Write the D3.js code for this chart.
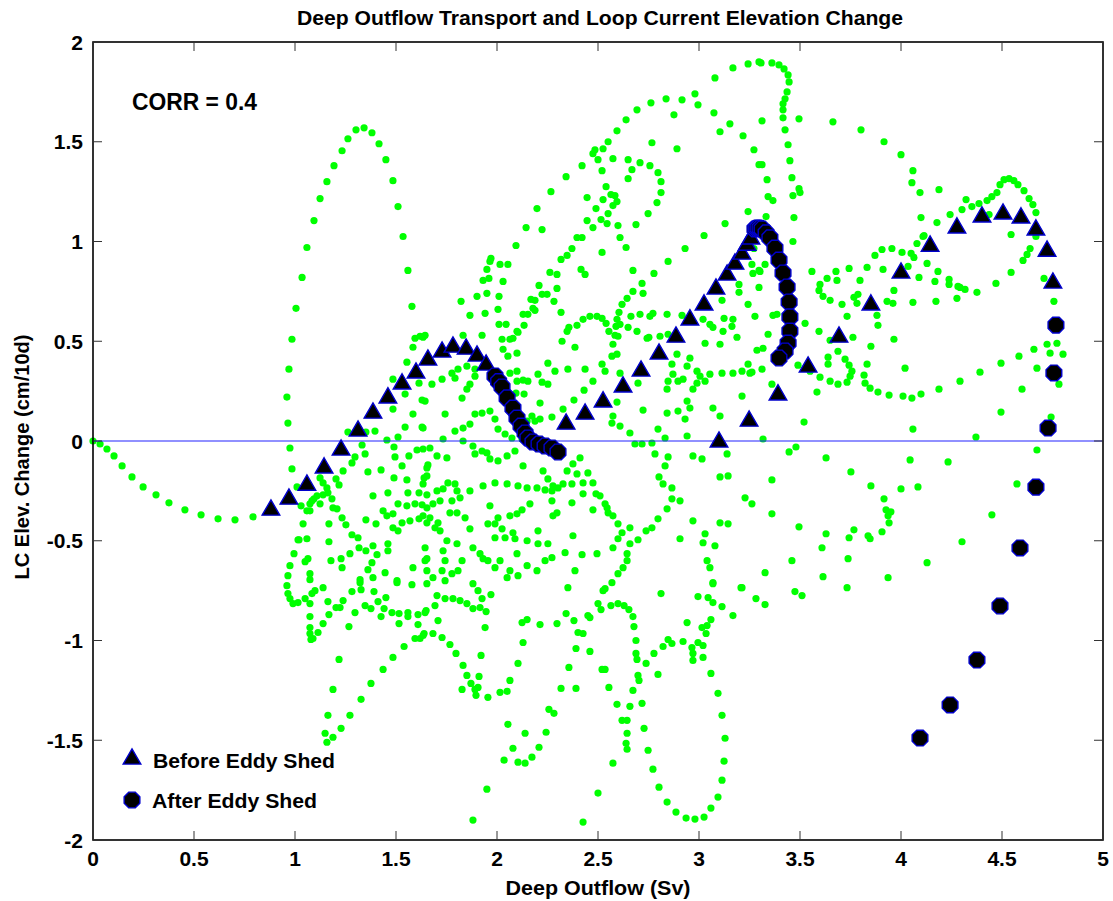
<!DOCTYPE html>
<html><head><meta charset="utf-8">
<script src="https://cdn.jsdelivr.net/npm/d3@7"></script>
<style>
body{margin:0;background:#fff}
svg{display:block}
text{font-family:"Liberation Sans",Arial,Helvetica,sans-serif;font-weight:bold;fill:#000}
</style>
</head><body>
<svg id="chart" width="1113" height="901"></svg>
<script>
// ---------- data ----------
const titleText = "Deep Outflow Transport and Loop Current Elevation Change";
const xLabel = "Deep Outflow (Sv)";
const yLabel = "LC Elev. Change (cm/10d)";
const corrText = "CORR = 0.4";
const legendLabels = ["Before Eddy Shed", "After Eddy Shed"];
const xTicks = [0, 0.5, 1, 1.5, 2, 2.5, 3, 3.5, 4, 4.5, 5];
const yTicks = [-2, -1.5, -1, -0.5, 0, 0.5, 1, 1.5, 2];

// all 10-day points (green)
const allPoints = [
[0.985,0.51],[1.005,0.665],[1.035,0.82],[1.059,0.97],[1.094,1.105],[1.124,1.215],[1.158,1.30],[1.193,1.38],[1.233,1.455],[1.262,1.515],[1.302,1.56],[1.342,1.57],[1.381,1.545],[1.416,1.49],[1.450,1.41],[1.485,1.305],[1.510,1.175],[1.535,1.025],[1.559,0.855],[1.579,0.675],[1.594,0.515],[1.619,0.525],[1.644,0.53],
[0.970,0.36],[0.960,0.22],[0.965,0.09],[0.975,-0.035],[0.985,-0.14],[1.010,-0.23],[1.030,-0.325],[1.040,-0.415],[1.015,-0.495],[0.995,-0.565],[0.975,-0.625],[0.965,-0.675],[0.960,-0.725],[0.965,-0.765],[0.975,-0.79],[0.990,-0.815],[1.015,-0.81],[1.050,-0.79],[1.074,-0.815],[1.074,-0.88],[1.074,-0.935],[1.074,-0.965],[1.079,-0.995],[1.089,-0.99],[1.114,-0.96],[1.139,-0.915],[1.168,-0.87],[1.203,-0.835],[1.223,-0.835],[1.238,-0.80],[1.282,-0.755],[1.297,-0.86],[1.267,-0.93],[1.218,-1.095],[1.188,-1.245],[1.163,-1.375],[1.149,-1.465],[1.158,-1.51],[1.188,-1.485],[1.228,-1.44],[1.272,-1.375],[1.327,-1.295],[1.376,-1.215],[1.436,-1.145],[1.485,-1.085],[1.540,-1.03],[1.594,-0.99],[1.619,-0.99],[1.639,-0.965],[1.609,-0.92],[1.609,-0.87],[1.649,-0.85],[1.559,-0.86],[1.559,-0.88],[1.515,-0.865],[1.515,-0.915],[1.480,-0.86],[1.426,-0.88],[1.441,-0.84],[1.411,-0.805],[1.450,-0.785],[1.391,-0.755],[1.347,-0.825],[1.376,-0.84],[1.163,-0.805],[1.139,-0.735],[1.099,-0.75],[1.084,-0.765],[1.327,-0.745],[1.322,-0.71],[1.505,-0.71],[1.579,-0.72],[1.653,-0.715],
[0,0],[0.035,-0.015],[0.069,-0.04],[0.104,-0.075],[0.144,-0.125],[0.193,-0.18],[0.248,-0.23],[0.312,-0.27],[0.376,-0.31],[0.455,-0.345],[0.535,-0.37],[0.619,-0.39],[0.703,-0.395],[0.792,-0.38],
[1.634,0.52],[1.584,0.47],[1.554,0.395],[1.609,0.34],[1.614,0.29],[1.485,0.31],[1.545,0.235],[1.629,0.205],[1.584,0.135],[1.485,0.16],[1.545,0.07],[1.629,0.07],[1.510,0.02],[1.455,0.005],[1.396,0.05],[1.351,0.045],[1.262,0.045],[1.332,-0.02],[1.347,-0.065],[1.297,-0.08],[1.282,-0.11],[1.238,-0.15],[1.203,-0.19],[1.218,-0.22],[1.490,-0.03],[1.495,-0.08],[1.564,-0.075],[1.634,-0.04],[1.604,-0.045],[1.658,-0.12],[1.530,-0.125],[1.490,-0.185],[1.426,-0.145],[1.361,-0.155],[1.554,-0.195],[1.639,-0.185],[1.460,-0.26],[1.386,-0.275],[1.559,-0.26],[1.614,-0.26],[1.653,-0.27],[1.351,-0.395],[1.401,-0.415],[1.455,-0.375],[1.436,-0.35],[1.485,-0.365],[1.510,-0.315],[1.554,-0.325],[1.594,-0.315],[1.629,-0.32],[1.530,-0.41],[1.485,-0.435],[1.510,-0.45],[1.569,-0.40],[1.614,-0.39],[1.653,-0.41],
[1.124,-0.185],[1.139,-0.21],[1.158,-0.235],[1.163,-0.26],[1.139,-0.27],[1.109,-0.275],[1.094,-0.29],[1.084,-0.30],[1.074,-0.35],[1.059,-0.35],[1.074,-0.315],[1.124,-0.315],[1.183,-0.29],[1.188,-0.335],[1.208,-0.34],[1.233,-0.385],[1.252,-0.42],[1.282,-0.47],[1.312,-0.485],[1.317,-0.535],[1.272,-0.565],[1.228,-0.59],[1.233,-0.635],[1.178,-0.60],[1.168,-0.505],[1.168,-0.415],[1.351,-0.55],[1.386,-0.525],[1.406,-0.57],[1.381,-0.61],[1.361,-0.645],[1.386,-0.685],[1.322,-0.695],[1.446,-0.66],[1.460,-0.515],[1.460,-0.55],[1.505,-0.70],[1.584,-0.635],[1.653,-0.65],[1.644,-0.535],[1.653,-0.59],[1.059,-0.49],[1.050,-0.605],[1.064,-0.59],[1.074,-0.665],[1.074,-0.695],[1.020,-0.495],
[3.297,1.90],[3.243,1.89],[3.168,1.87],[3.079,1.82],[2.980,1.74],[2.916,1.71],[2.837,1.715],[2.762,1.695],[2.693,1.66],[2.639,1.61],[2.594,1.555],[2.550,1.50],[2.525,1.465],[2.485,1.46],[2.475,1.44],[2.500,1.41],[2.520,1.355],[2.574,1.415],[2.649,1.41],[2.708,1.395],[2.757,1.38],[2.797,1.345],[2.812,1.30],[2.812,1.245],[2.792,1.195],[2.748,1.14],[2.688,1.085],[2.995,1.685],[3.074,1.645],[3.153,1.59],[3.218,1.53],[3.272,1.46],[3.297,1.385],[3.104,1.55],[2.876,1.635],[2.767,1.495],[2.891,1.465],[2.668,1.36],[2.649,1.315],[2.540,1.275],[2.564,1.235],[2.584,1.23],[2.594,1.20],[2.574,1.18],[2.550,1.14],[2.525,1.21],[2.490,1.165],[2.446,1.22],[2.446,1.105],[2.475,1.07],[2.515,1.11],[2.545,1.09],[2.599,1.08],[2.609,1.02],[2.639,0.97],[2.520,0.945],[2.421,1.02],[2.396,1.02],[2.371,0.965],[2.347,0.93],[2.317,0.91],[2.421,1.38],[2.342,1.325],[2.267,1.25],[2.198,1.165],[2.144,1.07],[2.094,0.98],[2.223,1.06],[2.416,0.86],[2.436,0.835],[2.297,0.835],[2.262,0.845],[2.297,0.765],[2.282,0.70],[2.317,0.645],[2.248,0.735],[2.223,0.735],[2.208,0.78],[2.168,0.71],[2.188,0.705],[2.178,0.665],[2.188,0.655],[2.153,0.635],[2.129,0.635],[2.134,0.58],[2.104,0.545],[2.079,0.515],[1.970,0.915],[1.965,0.90],[1.950,0.86],[1.931,0.805],[1.960,0.815],[2.015,0.885],[2.054,0.885],[2.030,0.80],[1.950,0.74],[1.901,0.725],[2.010,0.725],[2.005,0.66],[1.941,0.64],[1.866,0.63],[1.822,0.70],[2.010,0.585],[2.045,0.585],[1.926,0.53],[1.832,0.53],
[2.673,0.855],[2.777,0.84],[2.847,0.90],[2.931,0.965],[3.025,1.03],[3.129,1.09],[3.243,1.15],[2.718,0.79],[2.673,0.75],[2.644,0.715],[2.619,0.685],[2.604,0.645],[2.594,0.61],[2.589,0.575],[2.609,0.585],[2.649,0.57],[2.663,0.625],[2.708,0.635],[2.757,0.625],[2.772,0.64],[2.842,0.635],[2.916,0.63],[2.723,0.74],[2.520,0.615],[2.495,0.625],[2.460,0.625],[2.426,0.61],[2.396,0.58],[2.356,0.57],[2.347,0.55],[2.540,0.59],[2.554,0.55],[2.599,0.525],[2.693,0.55],[2.752,0.52],[2.807,0.525],[3.020,0.61],[3.054,0.585],[3.069,0.57],[3.124,0.615],[3.168,0.61],[3.163,0.575],[3.119,0.55],[3.114,0.705],[3.198,0.785],[3.198,0.745],[3.243,0.685],[3.277,0.625],[3.262,0.885],[3.267,0.84],[3.297,0.855],[3.297,0.77],[3.188,0.52],
[3.307,1.895],[3.361,1.895],[3.396,1.885],[3.421,1.865],[3.441,1.835],[3.446,1.80],[3.436,1.75],[3.426,1.715],[3.416,1.69],[3.416,1.66],[3.416,1.62],[3.426,1.56],[3.441,1.485],[3.450,1.405],[3.460,1.32],[3.465,1.23],[3.470,1.12],[3.465,1.00],[3.500,1.245],[3.495,1.615],[3.312,1.605],[3.312,1.385],[3.337,1.31],[3.342,1.225],[3.366,1.205],[3.332,1.125],[3.663,1.60],[3.802,1.56],[3.916,1.50],[4.000,1.435],[4.059,1.355],[4.054,1.295],[4.094,1.245],[4.188,1.26],[4.099,1.12],[4.178,1.095],[4.243,1.135],[4.302,1.16],[4.322,1.21],[4.351,1.175],[4.386,1.19],[4.436,1.135],[4.426,1.205],[4.450,1.225],[4.475,1.245],[4.490,1.285],[4.510,1.31],[4.535,1.315],[4.559,1.305],[4.579,1.285],[4.609,1.255],[4.634,1.215],[4.653,1.185],[4.668,1.145],[4.668,1.025],[4.639,0.965],[4.624,0.935],[4.604,0.905],[4.545,0.845],[4.470,0.79],[4.376,0.745],[4.317,0.76],[4.292,0.77],[4.277,0.715],[4.238,0.81],[4.238,0.785],[4.173,0.70],[4.183,0.85],[4.168,0.80],[4.129,0.89],[4.089,0.82],[4.059,0.695],[3.965,0.755],[3.960,0.69],[3.931,0.70],[3.911,0.86],[4.050,0.94],[4.035,0.875],[4.064,0.92],[4.079,0.99],[4.109,1.025],[4.005,0.945],[3.955,0.965],[3.906,0.96],[3.871,0.93],[3.832,0.87],[3.797,0.805],[3.743,0.865],[3.678,0.85],[3.683,0.805],[3.634,0.815],[3.599,0.785],[3.594,0.755],[3.614,0.725],[3.649,0.705],[3.708,0.685],[3.767,0.72],[3.787,0.735],[3.782,0.69],[3.733,0.625],[3.881,0.63],[3.886,0.58],[3.559,0.85],[3.495,1.265],[3.272,0.965],[3.302,0.85],[3.327,0.885],[3.366,0.63],[3.386,0.635],[3.342,0.535],[3.525,0.59],[3.594,0.55],[3.762,0.52],[3.965,0.51],[4.545,1.035],[4.708,0.815],[4.757,0.70],[4.114,1.03],[4.282,0.775],
[3.317,0.465],[3.287,0.455],[3.262,0.345],[3.312,0.36],[3.361,0.285],[3.490,0.38],[3.550,0.35],[3.599,0.32],[3.649,0.30],[3.688,0.285],[3.733,0.295],[3.748,0.325],[3.757,0.35],[3.743,0.38],[3.723,0.41],[3.688,0.45],[3.639,0.42],[3.639,0.385],[3.649,0.505],[3.851,0.475],[3.832,0.385],[3.817,0.33],[3.822,0.29],[3.847,0.265],[3.886,0.245],[3.941,0.23],[4.010,0.225],[4.054,0.215],[4.099,0.235],[4.188,0.26],[4.292,0.30],[4.391,0.345],[4.495,0.39],[4.584,0.425],[4.658,0.46],[4.723,0.485],[4.738,0.44],[4.772,0.49],[4.802,0.435],[4.782,0.285],[4.673,0.365],[4.599,0.26],[4.495,0.145],[4.743,0.12],[4.371,0.02],[4.059,0.06],[4.020,0.365],[3.584,0.245],[3.520,0.095],[3.317,0.01],[3.480,-0.03],[3.446,-0.055],[3.629,-0.085],[3.752,-0.155],[3.361,-0.195],[3.262,-0.315],[3.361,-0.365],[3.495,-0.43],[3.851,-0.225],[4.000,-0.24],[4.084,-0.23],[4.045,-0.095],[4.233,-0.105],[3.916,-0.29],[3.926,-0.345],[3.950,-0.355],[3.936,-0.375],[3.941,-0.41],[3.906,-0.455],[3.837,-0.475],[3.847,-0.49],[3.767,-0.445],[3.743,-0.485],[3.629,-0.465],[3.609,-0.535],[3.460,-0.60],[3.327,-0.66],[3.614,-0.68],[3.738,-0.59],[3.936,-0.685],[4.129,-0.61],[4.302,-0.505],[4.450,-0.37],[4.574,-0.215],[4.673,-0.045],[3.733,-0.735],[3.282,-0.79],[3.327,-0.82],[3.475,-0.755],[3.510,-0.775],
[2.064,0.51],[2.099,0.55],[2.322,0.50],[2.386,0.47],[2.584,0.53],[2.574,0.485],[2.594,0.435],[2.569,0.425],[2.520,0.385],[2.535,0.35],[2.475,0.30],[2.436,0.36],[2.351,0.36],[2.287,0.35],[2.252,0.39],[2.203,0.335],[2.223,0.295],[2.252,0.285],[2.213,0.19],[2.153,0.30],[2.129,0.305],[2.099,0.35],[2.099,0.30],[2.064,0.34],[2.030,0.46],[2.054,0.425],[2.025,0.51],[2.099,0.44],[2.094,0.24],[2.134,0.235],[2.173,0.125],[2.149,0.10],[2.188,0.10],[2.213,0.11],[2.272,0.12],[2.327,0.16],[2.381,0.205],[2.431,0.255],[2.609,0.34],[2.698,0.29],[2.594,0.195],[2.574,0.125],[2.569,0.09],[2.609,0.075],[2.658,0.04],[2.683,-0.015],[2.718,-0.015],[2.767,-0.01],[2.782,-0.065],[2.847,-0.08],[2.832,-0.125],[2.802,-0.18],[2.822,-0.215],[2.866,-0.235],[2.866,-0.29],[2.906,-0.30],[2.842,-0.34],[2.797,-0.39],[2.767,-0.435],[2.738,-0.45],[2.698,-0.495],[2.658,-0.515],[2.644,-0.565],[2.644,-0.60],[2.599,-0.665],[2.569,-0.71],[2.535,-0.74],[2.624,-0.635],[2.658,-0.435],[2.619,-0.46],[2.599,-0.415],[2.574,-0.375],[2.550,-0.36],[2.545,-0.335],[2.475,-0.345],[2.510,-0.275],[2.535,-0.315],[2.490,-0.265],[2.426,-0.265],[2.371,-0.31],
[1.644,0.20],[1.634,0.065],[1.743,0.135],[1.733,0.01],[1.668,-0.035],[1.703,-0.075],[1.752,-0.085],[1.792,0.05],[1.832,0.065],[1.866,0.085],[1.891,0.135],[1.926,0.14],[1.965,0.15],[1.990,0.11],[2.005,0.06],[2.040,0.035],[2.074,0.015],[2.124,0.01],[1.851,0.26],[1.827,0.215],[1.792,0.315],[1.777,0.34],[1.807,0.36],[1.851,0.375],[1.891,0.36],[1.891,0.325],[1.866,0.285],[1.728,0.31],[1.678,0.285],[1.832,0],[1.881,-0.025],[1.891,-0.065],[1.926,-0.05],[1.950,-0.06],[1.965,-0.09],[2.005,-0.10],[2.050,-0.075],[2.089,-0.05],[2.129,-0.125],[2.228,-0.15],[2.252,-0.19],[2.277,-0.225],[2.302,-0.235],[2.327,-0.215],[2.347,-0.15],[2.376,-0.115],[2.411,-0.085],[2.396,-0.165],[2.371,-0.215],[2.426,-0.21],[2.450,-0.16],[2.475,-0.21],
[1.653,-0.135],[1.653,-0.175],[1.634,-0.215],[1.703,-0.25],[1.733,-0.24],[1.757,-0.21],[1.792,-0.215],[1.802,-0.25],[1.817,-0.285],[1.777,-0.30],[1.718,-0.30],[1.683,-0.315],[1.653,-0.335],[1.634,-0.375],[1.668,-0.385],[1.708,-0.41],[1.693,-0.435],[1.718,-0.45],[1.767,-0.36],[1.802,-0.36],[1.842,-0.385],[1.866,-0.44],[1.881,-0.535],[1.916,-0.565],[1.931,-0.59],[1.827,-0.60],[1.802,-0.515],[1.752,-0.50],[1.733,-0.55],[1.743,-0.60],[1.728,-0.65],[1.777,-0.665],[1.807,-0.65],[1.644,-0.60],[1.683,-0.685],[1.743,-0.70],[1.866,-0.25],[1.931,-0.225],[1.990,-0.21],[2.050,-0.215],[2.104,-0.225],[2.149,-0.235],[2.198,-0.235],[2.238,-0.245],[2.272,-0.30],[2.297,-0.36],[2.277,-0.375],[2.272,-0.25],[2.099,-0.365],[2.064,-0.375],[2.005,-0.385],[1.965,-0.325],[2.124,-0.345],[2.163,-0.315],[2.025,-0.44],[1.990,-0.415],[1.955,-0.415],[1.990,-0.485],[2.040,-0.485],[2.079,-0.46],[2.089,-0.49],[2.149,-0.50],[2.203,-0.45],[2.203,-0.515],[2.252,-0.515],[2.272,-0.585],[2.238,-0.60],[2.198,-0.65],[2.149,-0.625],[2.104,-0.675],[2.064,-0.65],[2.015,-0.60],[1.955,-0.60],[1.990,-0.635],[2.050,-0.685],[2.099,-0.565],[2.337,-0.56],[2.376,-0.475],[2.421,-0.57],[2.495,-0.565],[2.574,-0.535],[2.599,-0.49],[2.386,-0.65],[2.351,-0.735],
[2.743,0.515],[2.847,0.535],[2.891,0.435],[2.866,0.385],[2.941,0.375],[2.955,0.415],[2.990,0.35],[3.005,0.325],[3.030,0.30],[2.990,0.29],[2.921,0.31],[2.896,0.30],[2.871,0.335],[2.847,0.30],[2.842,0.26],[2.970,0.26],[2.941,0.20],[2.955,0.165],[2.896,0.15],[2.842,0.14],[2.723,0.155],[2.797,0.06],[2.832,0.015],[2.931,0.11],[2.941,0.025],[3.069,0.165],[3.104,0.125],[3.213,0.225],[3.030,0.49],[3.104,0.485],[3.243,0.385],[3.252,0.34],[3.213,0.35],[3.168,0.34],[3.114,0.34],[3.054,0.335],[3.139,-0.065],[3.104,-0.18],[3.144,-0.175],[2.970,-0.075],[3.015,-0.09],[3.228,-0.285],[3.030,-0.465],[3.020,-0.51],[3.079,-0.525],[3.104,-0.41],[3.144,-0.415],[3.040,-0.60],[3.054,-0.635],[2.970,-0.40],[2.906,-0.49],[3.069,-0.71],[3.213,-0.735],
[1.703,-0.775],[1.743,-0.79],[1.782,-0.79],[1.817,-0.80],[1.851,-0.815],[1.881,-0.84],[1.916,-0.835],[1.926,-0.79],[1.906,-0.75],[1.881,-0.715],[1.693,-0.825],[1.644,-0.86],[1.708,-0.90],[1.683,-0.965],[1.634,-0.975],[1.728,-0.985],[1.767,-1.02],[1.797,-1.065],[1.832,-1.125],[1.851,-1.175],[1.871,-1.215],[1.891,-1.245],[1.896,-1.275],[1.955,-1.285],[1.906,-1.235],[1.827,-1.245],[1.911,-1.18],[1.921,-1.075],[1.941,-0.935],[1.946,-0.855],[1.970,-0.77],[2.015,-1.26],[2.050,-1.255],[2.064,-1.20],[2.104,-1.115],[2.129,-1.01],[2.124,-0.91],[2.149,-0.895],[2.213,-0.92],[2.297,-0.915],[2.342,-0.865],[2.381,-0.90],[2.401,-0.96],[2.426,-0.965],[2.450,-0.875],[2.460,-0.885],[2.500,-0.815],[2.515,-0.845],[2.525,-0.75],[2.564,-0.825],[2.599,-0.815],[2.629,-0.825],[2.653,-0.845],[2.673,-0.88],[2.678,-0.93],[2.688,-1.00],[2.688,-1.065],[2.693,-1.095],[2.698,-1.175],[2.703,-1.20],[2.673,-1.25],[2.658,-1.33],[2.644,-1.40],[2.619,-1.40],[2.644,-1.465],[2.639,-1.515],[2.644,-1.545],[2.594,-1.32],[2.554,-1.235],[2.520,-1.145],[2.535,-1.145],[2.460,-1.055],[2.391,-1.04],[2.356,-1.135],[2.391,-1.24],[2.317,-1.24],[2.257,-1.345],[2.282,-1.365],[2.243,-1.46],[2.208,-1.535],[2.173,-1.585],[2.139,-1.615],[2.104,-1.61],[2.079,-1.54],[2.035,-1.60],[2.054,-1.42],[2.139,-1.465],[1.950,-1.745],[1.881,-1.90],[2.426,-1.91],[2.500,-1.765],[2.574,-1.615],[2.718,-1.315],[2.728,-1.44],[2.748,-1.55],[2.772,-1.645],[2.802,-1.735],[2.842,-1.81],[2.886,-1.86],[2.936,-1.89],[2.980,-1.895],[3.025,-1.885],[3.059,-1.84],[3.094,-1.785],[3.114,-1.70],[3.124,-1.605],[3.129,-1.49],[3.114,-1.375],[3.094,-1.265],[3.059,-1.165],[3.020,-1.085],[2.970,-1.10],[2.970,-1.065],[2.965,-1.035],[2.995,-1.01],[3.020,-1.025],[3.035,-0.965],[3.040,-0.925],[3.059,-0.895],[3.015,-0.935],[2.995,-0.78],[3.045,-0.785],[3.069,-0.81],[3.114,-0.83],[3.168,-0.875],[3.208,-0.735],[3.069,-0.715],[2.921,-1.005],[2.866,-1.015],[2.847,-0.995],[2.822,-1.03],[2.777,-1.065],[2.738,-1.115],[2.797,-1.17],[2.941,-0.91],[2.812,-0.765]
];

// before eddy shed (triangles)
const beforeShed = [
[0.881,-0.341],[0.970,-0.286],[1.059,-0.216],[1.144,-0.130],[1.228,-0.040],[1.312,0.055],[1.386,0.145],[1.460,0.221],[1.530,0.291],[1.599,0.346],[1.658,0.411],[1.728,0.451],[1.782,0.476],[1.847,0.466],[1.901,0.431],[1.946,0.386],
[2.342,0.090],[2.436,0.140],[2.525,0.201],[2.624,0.276],[2.713,0.356],[2.802,0.441],[2.886,0.526],[2.955,0.612],[3.025,0.687],[3.084,0.767],[3.139,0.837],[3.178,0.892],[3.213,0.942],[3.238,0.987],[3.257,1.018],
[3.099,0.000],[3.248,0.105],[3.391,0.236],[3.540,0.376],[3.693,0.526],[3.851,0.687],[4.000,0.847],[4.144,0.982],[4.277,1.073],[4.401,1.128],[4.505,1.143],[4.594,1.123],[4.668,1.063],[4.723,0.957],[4.752,0.797]
];

// after eddy shed (circles)
const afterShed = [
[1.990,0.326],[2.008,0.298],[2.025,0.271],[2.050,0.216],[2.079,0.165],[2.099,0.115],[2.119,0.075],[2.139,0.040],[2.153,0.015],[2.178,-0.005],[2.208,-0.015],[2.238,-0.025],[2.272,-0.035],[2.302,-0.055],
[3.277,1.063],[3.285,1.066],[3.292,1.068],[3.302,1.066],[3.312,1.063],[3.332,1.043],[3.351,1.018],[3.376,0.967],[3.396,0.907],[3.416,0.842],[3.436,0.772],[3.446,0.697],[3.450,0.622],[3.450,0.551],[3.441,0.491],[3.426,0.451],[3.396,0.416],
[4.767,0.581],[4.757,0.341],[4.728,0.065],[4.668,-0.231],[4.589,-0.536],[4.490,-0.827],[4.376,-1.098],[4.243,-1.323],[4.094,-1.489]
];

// ---------- drawing ----------
const svg = d3.select("#chart");
const W = 1113, H = 901;
const m = {left: 93, right: 1103, top: 42, bottom: 840};
const x = d3.scaleLinear().domain([0, 5]).range([m.left, m.right]);
const y = d3.scaleLinear().domain([-2, 2]).range([m.bottom, m.top]);
const fmt = t => String(t);   // plain hyphen-minus like the reference

svg.append("rect").attr("width", W).attr("height", H).attr("fill", "#fff");

// title
svg.append("text").attr("x", 600).attr("y", 25).attr("text-anchor", "middle")
  .attr("font-size", 19.5).attr("textLength", 606).attr("lengthAdjust", "spacingAndGlyphs")
  .text(titleText);

// green points
svg.append("g").selectAll("circle").data(allPoints).join("circle")
  .attr("cx", d => x(d[0])).attr("cy", d => y(d[1])).attr("r", 3.6)
  .attr("fill", "#00ff00");

// zero line
svg.append("line").attr("x1", x(0)).attr("x2", x(5)).attr("y1", y(0)).attr("y2", y(0))
  .attr("stroke", "#2222ff").attr("stroke-width", 1.2);

const triPath = d3.symbol().type(d3.symbolTriangle).size(135)();
const octR = 8.5;
const octPath = d3.line()(d3.range(8).map(i => {
  const a = Math.PI / 8 + i * Math.PI / 4;
  return [octR * Math.cos(a), octR * Math.sin(a)];
})) + "Z";

svg.append("g").selectAll("path").data(beforeShed).join("path")
  .attr("d", triPath)
  .attr("transform", d => `translate(${x(d[0])},${y(d[1]) + 1})`)
  .attr("fill", "#000").attr("stroke", "#0000cc").attr("stroke-width", 1.4)
  .attr("stroke-linejoin", "miter");

svg.append("g").selectAll("path").data(afterShed).join("path")
  .attr("d", octPath)
  .attr("transform", d => `translate(${x(d[0])},${y(d[1])})`)
  .attr("fill", "#000").attr("stroke", "#0000cc").attr("stroke-width", 1.4);

// axes frame
const axG = svg.append("g");
axG.append("rect").attr("x", m.left).attr("y", m.top)
  .attr("width", m.right - m.left).attr("height", m.bottom - m.top)
  .attr("fill", "none").attr("stroke", "#000").attr("stroke-width", 1.6);

const tl = 9;
xTicks.forEach(t => {
  axG.append("line").attr("x1", x(t)).attr("x2", x(t)).attr("y1", m.bottom).attr("y2", m.bottom - tl)
    .attr("stroke", "#333").attr("stroke-width", 1);
  axG.append("line").attr("x1", x(t)).attr("x2", x(t)).attr("y1", m.top).attr("y2", m.top + tl)
    .attr("stroke", "#333").attr("stroke-width", 1);
  axG.append("text").attr("x", x(t)).attr("y", m.bottom + 26).attr("text-anchor", "middle")
    .attr("font-size", 21).text(fmt(t));
});
yTicks.forEach(t => {
  axG.append("line").attr("x1", m.left).attr("x2", m.left + tl).attr("y1", y(t)).attr("y2", y(t))
    .attr("stroke", "#333").attr("stroke-width", 1);
  axG.append("line").attr("x1", m.right).attr("x2", m.right - tl).attr("y1", y(t)).attr("y2", y(t))
    .attr("stroke", "#333").attr("stroke-width", 1);
  axG.append("text").attr("x", m.left - 10).attr("y", y(t) + 7.5).attr("text-anchor", "end")
    .attr("font-size", 21).text(fmt(t));
});

// axis labels
svg.append("text").attr("x", 598).attr("y", 895).attr("text-anchor", "middle")
  .attr("font-size", 20).attr("textLength", 185).attr("lengthAdjust", "spacingAndGlyphs").text(xLabel);
svg.append("text").attr("transform", "translate(29,457) rotate(-90)").attr("text-anchor", "middle")
  .attr("font-size", 20).attr("textLength", 245).attr("lengthAdjust", "spacingAndGlyphs").text(yLabel);

// correlation annotation
svg.append("text").attr("x", 132).attr("y", 110).attr("font-size", 23)
  .attr("textLength", 125).attr("lengthAdjust", "spacingAndGlyphs").text(corrText);

// legend
const lg = svg.append("g");
lg.append("path").attr("d", triPath).attr("transform", "translate(132,759)")
  .attr("fill", "#000").attr("stroke", "#0000cc").attr("stroke-width", 1.4);
lg.append("path").attr("d", octPath).attr("transform", "translate(132,800)")
  .attr("fill", "#000").attr("stroke", "#0000cc").attr("stroke-width", 1.4);
lg.append("text").attr("x", 153).attr("y", 768).attr("font-size", 20.5)
  .attr("textLength", 182).attr("lengthAdjust", "spacingAndGlyphs").text(legendLabels[0]);
lg.append("text").attr("x", 152).attr("y", 808).attr("font-size", 20.5)
  .attr("textLength", 165).attr("lengthAdjust", "spacingAndGlyphs").text(legendLabels[1]);
</script>
</body></html>
